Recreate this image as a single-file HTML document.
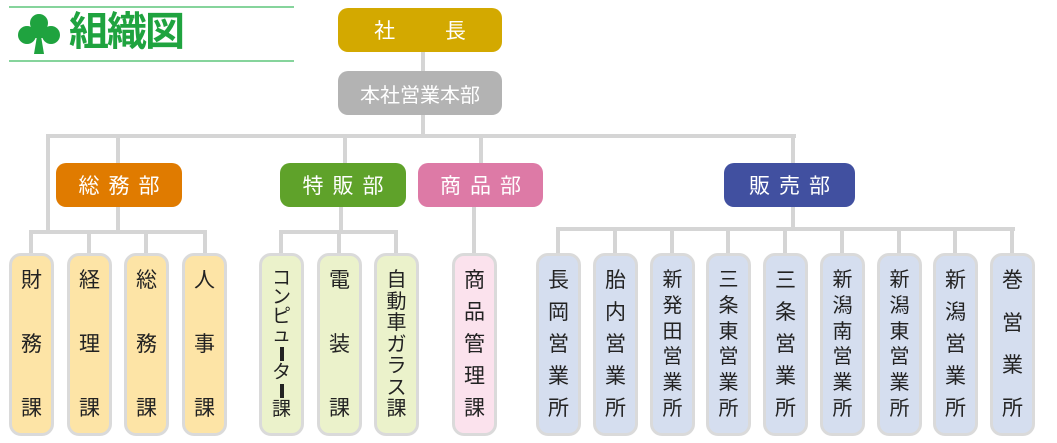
<!DOCTYPE html>
<html><head><meta charset="utf-8"><style>
*{margin:0;padding:0;box-sizing:border-box}
body{width:1057px;height:443px;background:#fff;position:relative;overflow:hidden;font-family:"Liberation Sans","Noto Sans CJK JP",sans-serif}
.a{position:absolute}
.l{position:absolute;background:#d5d5d5}
.d{position:absolute;height:44px;border-radius:10px;color:#fff;font-size:21px;display:flex;align-items:center;justify-content:center;top:163px;letter-spacing:9px;padding-left:9px}
.b{position:absolute;top:253px;width:45px;height:183px;border:3px solid #dadada;border-radius:12px;display:flex;flex-direction:column;justify-content:space-between;align-items:center;padding:14px 0 14px;font-size:21px;line-height:1;color:#222}
.o{background:#fde4a6}.g{background:#ebf2cb}.p{background:#fbe2ed}.u{background:#d5deef}
.bar{display:block;width:4px;height:16px;background:#222;margin:2px 0}
</style></head><body>
<div class="a" style="left:9px;top:6px;width:285px;height:2px;background:#86d49c"></div>
<div class="a" style="left:9px;top:60px;width:285px;height:2px;background:#86d49c"></div>
<svg class="a" style="left:17px;top:12px" width="44" height="44" viewBox="0 0 44 44"><g fill="#1fa33f"><circle cx="22" cy="11" r="9"/><circle cx="10" cy="23" r="9"/><circle cx="34" cy="23" r="9"/><rect x="14" y="14" width="16" height="12"/><path d="M20 24 L24 24 L27 42 L17 42 Z"/></g></svg>
<div class="a" style="left:69px;top:9px;font-size:40px;font-weight:bold;color:#1fa33f;line-height:46px;letter-spacing:-2px">組織図</div>

<div class="l" style="left:421px;top:52px;width:4px;height:86px"></div>
<div class="l" style="left:46px;top:134px;width:750px;height:4px"></div>
<div class="l" style="left:46px;top:134px;width:4px;height:100px"></div>
<div class="l" style="left:116px;top:134px;width:4px;height:100px"></div>
<div class="l" style="left:343px;top:134px;width:4px;height:30px"></div>
<div class="l" style="left:479px;top:134px;width:4px;height:30px"></div>
<div class="l" style="left:791px;top:134px;width:4px;height:30px"></div>

<div class="a" style="left:338px;top:8px;width:164px;height:44px;border-radius:10px;background:#d3a900;color:#fff;font-size:21px;display:flex;align-items:center;justify-content:center;word-spacing:44px">社 長</div>
<div class="a" style="left:338px;top:71px;width:164px;height:44px;border-radius:10px;background:#b3b3b3;color:#fff;font-size:20px;display:flex;align-items:center;justify-content:center">本社営業本部</div>

<div class="d" style="left:56px;width:126px;background:#e07b00">総務部</div>
<div class="d" style="left:280px;width:126px;background:#5fa22a">特販部</div>
<div class="d" style="left:418px;width:125px;background:#dd7aa6">商品部</div>
<div class="d" style="left:724px;width:131px;background:#4150a0">販売部</div>

<div class="l" style="left:29px;top:230px;width:178px;height:4px"></div>
<div class="l" style="left:29px;top:230px;width:4px;height:24px"></div>
<div class="l" style="left:87px;top:230px;width:4px;height:24px"></div>
<div class="l" style="left:144px;top:230px;width:4px;height:24px"></div>
<div class="l" style="left:203px;top:230px;width:4px;height:24px"></div>
<div class="l" style="left:339px;top:207px;width:4px;height:25px"></div>
<div class="l" style="left:279px;top:230px;width:119px;height:4px"></div>
<div class="l" style="left:279px;top:230px;width:4px;height:24px"></div>
<div class="l" style="left:337px;top:230px;width:4px;height:24px"></div>
<div class="l" style="left:394px;top:230px;width:4px;height:24px"></div>
<div class="l" style="left:472px;top:207px;width:4px;height:47px"></div>
<div class="l" style="left:791px;top:207px;width:4px;height:22px"></div>
<div class="l" style="left:556px;top:227px;width:459px;height:4px"></div>
<div class="l" style="left:556px;top:227px;width:4px;height:27px"></div>
<div class="l" style="left:613px;top:227px;width:4px;height:27px"></div>
<div class="l" style="left:670px;top:227px;width:4px;height:27px"></div>
<div class="l" style="left:726px;top:227px;width:4px;height:27px"></div>
<div class="l" style="left:783px;top:227px;width:4px;height:27px"></div>
<div class="l" style="left:840px;top:227px;width:4px;height:27px"></div>
<div class="l" style="left:897px;top:227px;width:4px;height:27px"></div>
<div class="l" style="left:953px;top:227px;width:4px;height:27px"></div>
<div class="l" style="left:1010px;top:227px;width:4px;height:27px"></div>

<div class="b o" style="left:9px"><span>財</span><span>務</span><span>課</span></div>
<div class="b o" style="left:67px"><span>経</span><span>理</span><span>課</span></div>
<div class="b o" style="left:124px"><span>総</span><span>務</span><span>課</span></div>
<div class="b o" style="left:182px"><span>人</span><span>事</span><span>課</span></div>

<div class="b g" style="left:259px;font-size:19px;justify-content:space-between;padding:13px 0 14px"><span>コ</span><span>ン</span><span>ピ</span><span>ュ</span><span class="bar"></span><span>タ</span><span class="bar"></span><span>課</span></div>
<div class="b g" style="left:317px"><span>電</span><span>装</span><span>課</span></div>
<div class="b g" style="left:374px;font-size:20px"><span>自</span><span>動</span><span>車</span><span>ガ</span><span>ラ</span><span>ス</span><span>課</span></div>

<div class="b p" style="left:452px"><span>商</span><span>品</span><span>管</span><span>理</span><span>課</span></div>

<div class="b u" style="left:536px"><span>長</span><span>岡</span><span>営</span><span>業</span><span>所</span></div>
<div class="b u" style="left:593px"><span>胎</span><span>内</span><span>営</span><span>業</span><span>所</span></div>
<div class="b u" style="left:650px;font-size:20px"><span>新</span><span>発</span><span>田</span><span>営</span><span>業</span><span>所</span></div>
<div class="b u" style="left:706px;font-size:20px"><span>三</span><span>条</span><span>東</span><span>営</span><span>業</span><span>所</span></div>
<div class="b u" style="left:763px"><span>三</span><span>条</span><span>営</span><span>業</span><span>所</span></div>
<div class="b u" style="left:820px;font-size:20px"><span>新</span><span>潟</span><span>南</span><span>営</span><span>業</span><span>所</span></div>
<div class="b u" style="left:877px;font-size:20px"><span>新</span><span>潟</span><span>東</span><span>営</span><span>業</span><span>所</span></div>
<div class="b u" style="left:933px"><span>新</span><span>潟</span><span>営</span><span>業</span><span>所</span></div>
<div class="b u" style="left:990px"><span>巻</span><span>営</span><span>業</span><span>所</span></div>
</body></html>
